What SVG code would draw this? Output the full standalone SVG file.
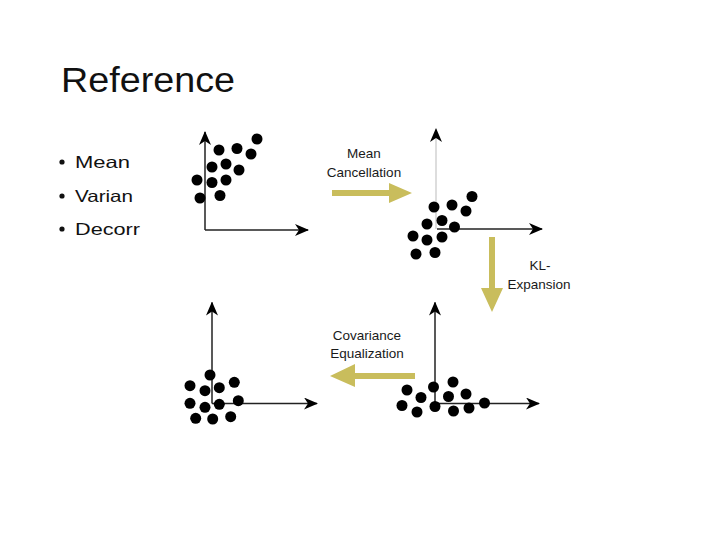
<svg xmlns="http://www.w3.org/2000/svg" width="720" height="540" viewBox="0 0 720 540">
<style>
.title{font-family:"Liberation Sans",Arial,sans-serif;font-size:35px;fill:#111}
.bul{font-family:"Liberation Sans",Arial,sans-serif;font-size:16.5px;fill:#111}
.lbl{font-family:"Liberation Sans",Arial,sans-serif;font-size:13.5px;fill:#1a1a1a;text-anchor:middle}
.axis{stroke:#222;stroke-width:1.5;fill:none;marker-end:url(#ah)}
.axis2{stroke:#bbb;stroke-width:1;fill:none;marker-end:url(#ah)}
.dot{fill:#000}
.flow{fill:#c9bd5c}
</style>
<defs>
<marker id="ah" markerWidth="14" markerHeight="12" refX="13" refY="6" orient="auto" markerUnits="userSpaceOnUse">
<path d="M0,0 L14,6 L0,12 L4,6 Z" fill="#000"/>
</marker>
</defs>
<rect width="720" height="540" fill="#fff"/>
<g id="title"><text class="title" x="61" y="92" textLength="174" lengthAdjust="spacingAndGlyphs">Reference</text></g>
<g id="bullets">
<circle cx="62" cy="162" r="2.6" fill="#111"/>
<text class="bul" x="75" y="168" textLength="55" lengthAdjust="spacingAndGlyphs">Mean</text>
<circle cx="62" cy="196" r="2.6" fill="#111"/>
<text class="bul" x="75" y="201.5" textLength="58" lengthAdjust="spacingAndGlyphs">Varian</text>
<circle cx="62" cy="229" r="2.6" fill="#111"/>
<text class="bul" x="75" y="235" textLength="65" lengthAdjust="spacingAndGlyphs">Decorr</text>
</g>
<g id="plot-original">
<path class="axis" d="M205,230 V132"/>
<path class="axis" d="M205,230 H308"/>
<g class="dot">
<circle cx="257" cy="139" r="5.5"/><circle cx="237" cy="148.5" r="5.5"/><circle cx="219" cy="150" r="5.5"/>
<circle cx="251" cy="154" r="5.5"/><circle cx="226" cy="164" r="5.5"/><circle cx="212" cy="167" r="5.5"/>
<circle cx="239" cy="170" r="5.5"/><circle cx="197" cy="180" r="5.5"/><circle cx="212" cy="182.5" r="5.5"/>
<circle cx="226" cy="180" r="5.5"/><circle cx="200" cy="198" r="5.5"/><circle cx="220" cy="195.5" r="5.5"/>
</g>
</g>
<g id="plot-centered">
<path class="axis2" d="M436,229 V129"/>
<path class="axis" d="M437,229 H542"/>
<g class="dot">
<circle cx="472" cy="196.5" r="5.5"/><circle cx="452" cy="205" r="5.5"/><circle cx="434" cy="207" r="5.5"/>
<circle cx="466" cy="211" r="5.5"/><circle cx="442" cy="220.5" r="5.5"/><circle cx="427" cy="224" r="5.5"/>
<circle cx="454.5" cy="227" r="5.5"/><circle cx="413" cy="236" r="5.5"/><circle cx="427" cy="240" r="5.5"/>
<circle cx="442" cy="237" r="5.5"/><circle cx="416" cy="254" r="5.5"/><circle cx="435" cy="252.5" r="5.5"/>
</g>
</g>
<g id="plot-decorrelated">
<path class="axis" d="M435,403.5 V302.5"/>
<path class="axis" d="M435,403.5 H539"/>
<g class="dot">
<circle cx="407" cy="390" r="5.5"/><circle cx="433.5" cy="387" r="5.5"/><circle cx="453" cy="382" r="5.5"/>
<circle cx="421" cy="397.5" r="5.5"/><circle cx="448.5" cy="396.5" r="5.5"/><circle cx="466" cy="394" r="5.5"/>
<circle cx="402" cy="405.5" r="5.5"/><circle cx="435" cy="406.5" r="5.5"/><circle cx="417" cy="412" r="5.5"/>
<circle cx="453.5" cy="411" r="5.5"/><circle cx="469" cy="408" r="5.5"/><circle cx="484.5" cy="403" r="5.5"/>
</g>
</g>
<g id="plot-whitened">
<path class="axis" d="M212,403.5 V302.5"/>
<path class="axis" d="M212,403.5 H317"/>
<g class="dot">
<circle cx="210" cy="375" r="5.5"/><circle cx="190" cy="385.7" r="5.5"/><circle cx="205" cy="390.7" r="5.5"/>
<circle cx="219.3" cy="387.7" r="5.5"/><circle cx="234.3" cy="382.3" r="5.5"/><circle cx="190" cy="403.3" r="5.5"/>
<circle cx="205" cy="407.3" r="5.5"/><circle cx="219.3" cy="404.3" r="5.5"/><circle cx="238.3" cy="400.7" r="5.5"/>
<circle cx="195.7" cy="418.3" r="5.5"/><circle cx="212.7" cy="419" r="5.5"/><circle cx="230.7" cy="416.7" r="5.5"/>
</g>
</g>
<g id="connectors">
<g id="mean-cancellation">
<path class="flow" d="M332,190 H389 V183 L412,193 L389,203 V196 H332 Z"/>
<text class="lbl" x="364" y="158">Mean</text>
<text class="lbl" x="364" y="177">Cancellation</text>
</g>
<g id="kl-expansion">
<path class="flow" d="M489,237 V288 H481 L492,312 L503,288 H495 V237 Z"/>
<text class="lbl" x="540" y="270">KL-</text>
<text class="lbl" x="539" y="289">Expansion</text>
</g>
<g id="covariance-equalization">
<path class="flow" d="M415,373 H355 V364 L330,376 L355,387 V379 H415 Z"/>
<text class="lbl" x="367" y="340">Covariance</text>
<text class="lbl" x="367" y="358">Equalization</text>
</g>
</g>
</svg>
